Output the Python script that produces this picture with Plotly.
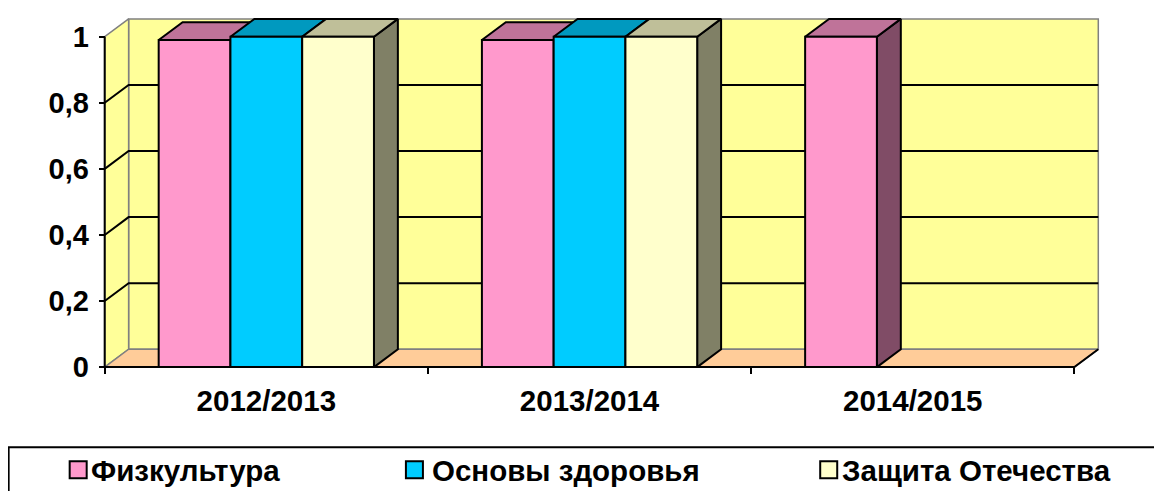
import plotly.graph_objects as go

# ---------------- data ----------------
categories = ["2012/2013", "2013/2014", "2014/2015"]
series_names = ["Физкультура", "Основы здоровья", "Защита Отечества"]
fizkultura = [0.99, 0.99, 1.0]
osnovy = [1.0, 1.0, None]
zashchita = [1.0, 1.0, None]
y_tick_vals = [0, 0.2, 0.4, 0.6, 0.8, 1.0]
y_tick_text = ["0", "0,2", "0,4", "0,6", "0,8", "1"]

series_values = [fizkultura, osnovy, zashchita]

# ---------------- styles ----------------
front_colors = ["#FF99CC", "#00CCFF", "#FFFFCC"]
top_colors = ["#BF7399", "#0099BF", "#BFBF99"]
side_colors = ["#804C66", "#006680", "#808066"]
WALL = "#FFFF99"
FLOOR = "#FFCC99"
GRAY = "#808080"
FONT = "Arial, 'Liberation Sans', sans-serif"

# 3D depth offsets in data units
DX = 0.074
DY = 0.054
GROUP = 0.666            # fraction of category occupied by bar group
BW = GROUP / len(series_values)

X0, X1 = -0.5, len(categories) - 0.5
PAD_X, PAD_Y = 0.03, 0.03
xrange = [X0 - PAD_X, X1 + DX + PAD_X]
yrange = [-PAD_Y, 1 + DY + PAD_Y]

# pixel anchoring (page pixels; body margin of 8px offsets the figure)
OFF = 8
FIG_W, FIG_H = 1162 - OFF, 491 - OFF
PXX, PXY = 323.0, 330.0
X0_PX, Y0_PX = 105.0 - OFF, 367.0 - OFF
L = X0_PX - PAD_X * PXX
W = (xrange[1] - xrange[0]) * PXX
R = FIG_W - L - W
B = FIG_H - (Y0_PX + PAD_Y * PXY)
H = (yrange[1] - yrange[0]) * PXY
T = FIG_H - B - H


def px_to_paper_x(px):
    return (px - OFF - L) / W


def px_to_paper_y(py):
    return (FIG_H - B - (py - OFF)) / H


fig = go.Figure()


def poly(xs, ys, fill, line_color="black", width=2):
    fig.add_trace(go.Scatter(
        x=xs + [xs[0]], y=ys + [ys[0]], mode="lines", fill="toself",
        fillcolor=fill, line=dict(color=line_color, width=width),
        hoverinfo="skip", showlegend=False))


def lines(xs, ys, color="black", width=2):
    fig.add_trace(go.Scatter(
        x=xs, y=ys, mode="lines", line=dict(color=color, width=width),
        hoverinfo="skip", showlegend=False))


# walls and floor
poly([X0 + DX, X1 + DX, X1 + DX, X0 + DX], [DY, DY, 1 + DY, 1 + DY], WALL, GRAY, 1.5)
poly([X0, X0, X0 + DX, X0 + DX], [0, 1, 1 + DY, DY], WALL, GRAY, 1.5)
poly([X0, X1, X1 + DX, X0 + DX], [0, 0, DY, DY], FLOOR, GRAY, 1.5)

# gridlines on side + back wall
gx, gy = [], []
for v in y_tick_vals:
    if 0 < v < 1:
        gx += [X0, X0 + DX, X1 + DX, None]
        gy += [v, v + DY, v + DY, None]
lines(gx, gy)

# front axis line and floor edges
lines([X0, X0], [0, 1])
lines([X0, X1, X1 + DX], [0, 0, DY])

# bars
for ci, cat in enumerate(categories):
    for si, vals in enumerate(series_values):
        v = vals[ci]
        if v is None or v == 0:
            continue
        xl = ci - GROUP / 2 + si * BW
        xr = xl + BW
        # side
        poly([xr, xr + DX, xr + DX, xr], [0, DY, v + DY, v], side_colors[si])
        # top
        poly([xl, xr, xr + DX, xl + DX], [v, v, v + DY, v + DY], top_colors[si])
        # front
        poly([xl, xr, xr, xl], [0, 0, v, v], front_colors[si])

# legend (manual)
shapes = [dict(type="rect", xref="paper", yref="paper",
               x0=px_to_paper_x(9), x1=px_to_paper_x(1175),
               y0=px_to_paper_y(447), y1=px_to_paper_y(505),
               line=dict(color="black", width=2), fillcolor="rgba(0,0,0,0)")]
annotations = []
legend_sq_x = [70, 406, 820]
legend_txt_x = [89, 430, 840]
for name, col, sx, tx in zip(series_names, front_colors, legend_sq_x, legend_txt_x):
    shapes.append(dict(type="rect", xref="paper", yref="paper",
                       x0=px_to_paper_x(sx), x1=px_to_paper_x(sx + 17),
                       y0=px_to_paper_y(478), y1=px_to_paper_y(461),
                       line=dict(color="black", width=2), fillcolor=col))
    annotations.append(dict(text=name, xref="paper", yref="paper",
                            x=px_to_paper_x(tx), y=px_to_paper_y(470),
                            xanchor="left", yanchor="middle", showarrow=False,
                            font=dict(family=FONT, size=29.5, color="black", weight="bold")))

fig.update_layout(
    width=FIG_W, height=FIG_H,
    margin=dict(l=L, r=R, t=T, b=B, pad=0),
    paper_bgcolor="white", plot_bgcolor="white",
    showlegend=False,
    shapes=shapes, annotations=annotations,
    xaxis=dict(range=xrange, anchor="free",
               position=(0 - yrange[0]) / (yrange[1] - yrange[0]),
               tickmode="array", tickvals=list(range(len(categories))), ticktext=categories,
               ticks="", showline=False, showgrid=False, zeroline=False,
               ticklabelstandoff=13,
               tickfont=dict(family=FONT, size=29.5, color="black", weight="bold"),
               minor=dict(tickmode="array", tickvals=[X0 + i for i in range(len(categories) + 1)],
                          ticks="outside", ticklen=6, tickwidth=2, tickcolor="black",
                          showgrid=False)),
    yaxis=dict(range=yrange, anchor="free",
               position=(X0 - xrange[0]) / (xrange[1] - xrange[0]),
               tickmode="array", tickvals=y_tick_vals, ticktext=y_tick_text,
               ticks="outside", ticklen=6, tickwidth=2, tickcolor="black",
               showline=False, showgrid=False, zeroline=False,
               ticklabelstandoff=4,
               tickfont=dict(family=FONT, size=29, color="black", weight="bold")),
)

fig.write_html("out.html")
